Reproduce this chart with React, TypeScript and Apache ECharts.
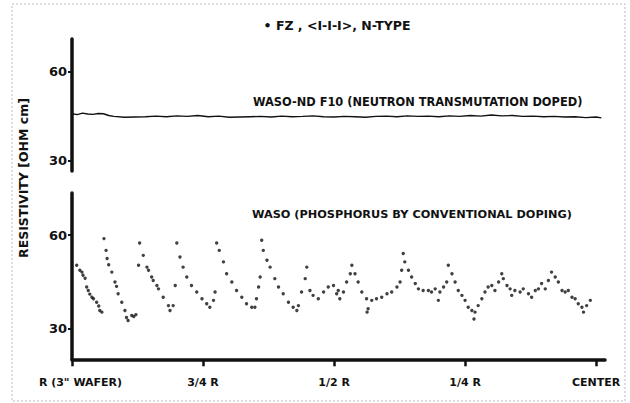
import React, { useEffect, useRef } from "react";
import * as echarts from "echarts";

// Neutron transmutation doped wafer (WASO-ND F10): [position, resistivity]
const ndProfile: [number, number][] = [
  [0.0, 45.9], [0.01, 45.6], [0.02, 46.1], [0.03, 45.8], [0.04, 45.7], [0.05, 46.0],
  [0.06, 45.9], [0.07, 45.3], [0.08, 45.0], [0.1, 44.7], [0.12, 44.8], [0.14, 44.9],
  [0.16, 45.1], [0.18, 44.9], [0.2, 45.2], [0.22, 45.0], [0.24, 45.3], [0.26, 44.9],
  [0.28, 45.1], [0.3, 44.7], [0.32, 44.8], [0.34, 44.9], [0.36, 45.0], [0.38, 44.8],
  [0.4, 45.1], [0.42, 44.9], [0.44, 45.0], [0.46, 45.2], [0.48, 44.9], [0.5, 44.8],
  [0.52, 45.0], [0.54, 44.9], [0.56, 44.7], [0.58, 45.0], [0.6, 45.1], [0.62, 44.9],
  [0.64, 45.2], [0.66, 45.0], [0.68, 45.1], [0.7, 44.9], [0.72, 45.2], [0.74, 45.0],
  [0.76, 45.3], [0.78, 45.1], [0.8, 45.5], [0.82, 45.2], [0.84, 45.3], [0.86, 45.0],
  [0.88, 45.1], [0.9, 44.9], [0.92, 45.0], [0.94, 44.8], [0.96, 44.9], [0.98, 44.6],
  [1.0, 44.8], [1.01, 44.5],
];

// Conventionally phosphorus doped wafer (WASO): [position, resistivity]
const wasoPoints: [number, number][] = [
  [0.009, 50.3], [0.015, 48.7], [0.019, 48.1], [0.021, 47.1], [0.025, 46.1], [0.028, 43.3],
  [0.031, 42.2], [0.034, 41.0], [0.038, 40.0], [0.041, 39.5], [0.047, 38.4], [0.051, 37.2],
  [0.053, 35.7], [0.057, 35.2],
  [0.061, 58.9], [0.065, 55.1], [0.067, 52.5], [0.07, 50.5], [0.076, 48.1], [0.082, 44.9],
  [0.085, 43.5], [0.088, 41.1], [0.095, 38.4], [0.101, 35.7], [0.104, 33.5], [0.107, 32.5],
  [0.114, 34.1], [0.118, 33.8], [0.122, 34.4],
  [0.127, 50.3], [0.129, 57.5], [0.136, 53.5], [0.143, 49.7], [0.146, 48.7], [0.152, 46.5],
  [0.155, 45.4], [0.162, 43.8], [0.165, 42.7], [0.174, 40.0], [0.184, 37.3], [0.187, 35.7],
  [0.193, 37.3], [0.197, 43.8],
  [0.2, 57.5], [0.206, 53.0], [0.212, 49.7], [0.219, 46.5], [0.228, 43.8], [0.238, 41.7],
  [0.248, 39.5], [0.257, 37.9], [0.263, 36.8], [0.27, 39.0], [0.273, 41.7],
  [0.276, 57.5], [0.281, 55.1], [0.289, 51.4], [0.295, 47.6], [0.305, 44.9], [0.314, 42.2],
  [0.324, 40.0], [0.333, 37.9], [0.343, 36.8], [0.349, 36.8], [0.352, 39.5], [0.356, 43.3],
  [0.359, 46.5],
  [0.362, 58.4], [0.365, 55.1], [0.372, 51.9], [0.378, 49.7], [0.387, 46.0], [0.394, 43.3],
  [0.403, 41.1], [0.413, 38.4], [0.422, 36.8], [0.429, 35.7], [0.432, 37.3], [0.438, 41.7],
  [0.445, 46.0], [0.448, 49.7], [0.454, 42.2], [0.46, 40.6], [0.47, 39.5], [0.48, 41.7],
  [0.489, 43.3], [0.499, 43.8], [0.505, 41.1], [0.508, 42.2], [0.511, 39.5], [0.518, 41.7],
  [0.524, 44.9], [0.531, 47.6], [0.534, 50.3], [0.54, 47.6], [0.546, 44.9], [0.553, 41.7],
  [0.562, 39.5], [0.563, 35.2], [0.565, 36.3], [0.572, 39.0], [0.581, 39.5], [0.591, 40.0],
  [0.601, 41.1], [0.61, 41.7], [0.62, 43.3], [0.626, 44.9], [0.629, 48.7], [0.632, 54.1],
  [0.635, 51.4], [0.642, 48.7], [0.648, 46.5], [0.655, 44.4], [0.661, 42.7], [0.67, 42.2],
  [0.68, 42.2], [0.686, 41.7], [0.693, 42.7], [0.699, 39.0], [0.702, 41.7], [0.709, 43.3],
  [0.715, 44.9], [0.718, 50.3], [0.725, 47.6], [0.731, 44.9], [0.737, 42.2], [0.744, 40.6],
  [0.75, 39.0], [0.756, 36.8], [0.763, 35.7], [0.767, 33.0], [0.769, 35.2], [0.775, 37.3],
  [0.782, 39.5], [0.788, 41.7], [0.794, 43.3], [0.801, 43.8], [0.807, 42.2], [0.814, 44.9],
  [0.82, 47.6], [0.823, 46.0], [0.83, 43.8], [0.836, 42.7], [0.839, 40.6], [0.845, 42.2],
  [0.855, 41.7], [0.861, 42.7], [0.871, 41.1], [0.877, 40.0], [0.884, 42.2], [0.89, 42.7],
  [0.896, 44.4], [0.903, 42.7], [0.909, 45.4], [0.915, 48.1], [0.922, 46.5], [0.928, 44.9],
  [0.935, 42.2], [0.941, 41.7], [0.947, 42.2], [0.954, 40.0], [0.96, 39.5], [0.966, 37.9],
  [0.973, 36.8], [0.976, 35.2], [0.982, 37.3], [0.989, 39.0],
];

const xTickValues = [0, 0.25, 0.5, 0.75, 1];
const xTickLabels = ['R (3" WAFER)', "3/4 R", "1/2 R", "1/4 R", "CENTER"];
const yTickValues = [30, 60];

const titleText = "• FZ , <I-I-I>, N-TYPE";
const yAxisTitle = "RESISTIVITY [OHM cm]";
const ndLabel = "WASO-ND F10 (NEUTRON TRANSMUTATION DOPED)";
const wasoLabel = "WASO (PHOSPHORUS BY CONVENTIONAL DOPING)";

const FONT = "DejaVu Sans";
const INK = "#111";

export default function App() {
  const ref = useRef<HTMLDivElement>(null);

  useEffect(() => {
    if (!ref.current) return;
    const chart = echarts.init(ref.current, undefined, { renderer: "svg" });

    const yAxisCommon = (min: number, max: number, gridIndex: number) => ({
      type: "value",
      gridIndex,
      min,
      max,
      axisLine: { show: true, lineStyle: { color: INK, width: 3.5 } },
      axisTick: {
        show: true,
        length: 4,
        lineStyle: { color: INK, width: 2 },
        customValues: yTickValues,
      },
      axisLabel: {
        show: true,
        margin: 5,
        color: INK,
        fontFamily: FONT,
        fontWeight: "bold",
        fontSize: 13,
        customValues: yTickValues,
      },
      splitLine: { show: false },
    });

    chart.setOption({
      animation: false,
      backgroundColor: "#fff",
      grid: [
        { left: 72, right: 25, top: 39, height: 132 },
        { left: 72, right: 25, top: 193, height: 166.3 },
      ],
      xAxis: [
        { type: "value", gridIndex: 0, min: 0, max: 1.017, show: false },
        {
          type: "value",
          gridIndex: 1,
          min: 0,
          max: 1.017,
          axisLine: { show: true, lineStyle: { color: INK, width: 3.5 } },
          axisTick: {
            show: true,
            length: 7,
            lineStyle: { color: INK, width: 2.5 },
            customValues: xTickValues,
          },
          axisLabel: {
            show: true,
            margin: 18,
            color: INK,
            fontFamily: FONT,
            fontWeight: "bold",
            fontSize: 11,
            customValues: xTickValues,
            formatter: (v: number) => {
              let idx = 0;
              let best = Infinity;
              xTickValues.forEach((t, i) => {
                if (Math.abs(t - v) < best) {
                  best = Math.abs(t - v);
                  idx = i;
                }
              });
              return idx === 0 ? `{r|${xTickLabels[0]}}` : xTickLabels[idx];
            },
            rich: {
              r: {
                padding: [0, 0, 0, 17],
                color: INK,
                fontFamily: FONT,
                fontWeight: "bold",
                fontSize: 11,
              },
            },
          },
          splitLine: { show: false },
        },
      ],
      yAxis: [yAxisCommon(26.6, 71.1, 0), yAxisCommon(20, 73.6, 1)],
      series: [
        {
          type: "line",
          xAxisIndex: 0,
          yAxisIndex: 0,
          data: ndProfile,
          showSymbol: false,
          symbol: "none",
          lineStyle: { color: INK, width: 1.4 },
        },
        {
          type: "scatter",
          xAxisIndex: 1,
          yAxisIndex: 1,
          data: wasoPoints,
          symbol: "circle",
          symbolSize: 3.4,
          itemStyle: { color: INK },
        },
      ],
      graphic: [
        {
          type: "rect",
          shape: { x: 12, y: 4, width: 613, height: 397 },
          style: { fill: "none", stroke: "#bbb", lineWidth: 1, lineDash: [2, 2] },
          silent: true,
        },
        {
          type: "text",
          x: 337,
          y: 25,
          style: {
            text: titleText,
            fill: INK,
            font: `bold 12.5px "${FONT}"`,
            align: "center",
            verticalAlign: "middle",
          },
        },
        {
          type: "text",
          x: 23,
          y: 178,
          rotation: Math.PI / 2,
          style: {
            text: yAxisTitle,
            fill: INK,
            font: `bold 12.5px "${FONT}"`,
            align: "center",
            verticalAlign: "middle",
          },
        },
        {
          type: "text",
          x: 253,
          y: 102,
          style: {
            text: ndLabel,
            fill: INK,
            font: `bold 11.4px "${FONT}"`,
            align: "left",
            verticalAlign: "middle",
          },
        },
        {
          type: "text",
          x: 252,
          y: 214,
          style: {
            text: wasoLabel,
            fill: INK,
            font: `bold 11.3px "${FONT}"`,
            align: "left",
            verticalAlign: "middle",
          },
        },
      ],
    });

    return () => chart.dispose();
  }, []);

  return (
    <div
      ref={ref}
      style={{ position: "fixed", left: 0, top: 0, width: 630, height: 403, background: "#fff" }}
    />
  );
}
